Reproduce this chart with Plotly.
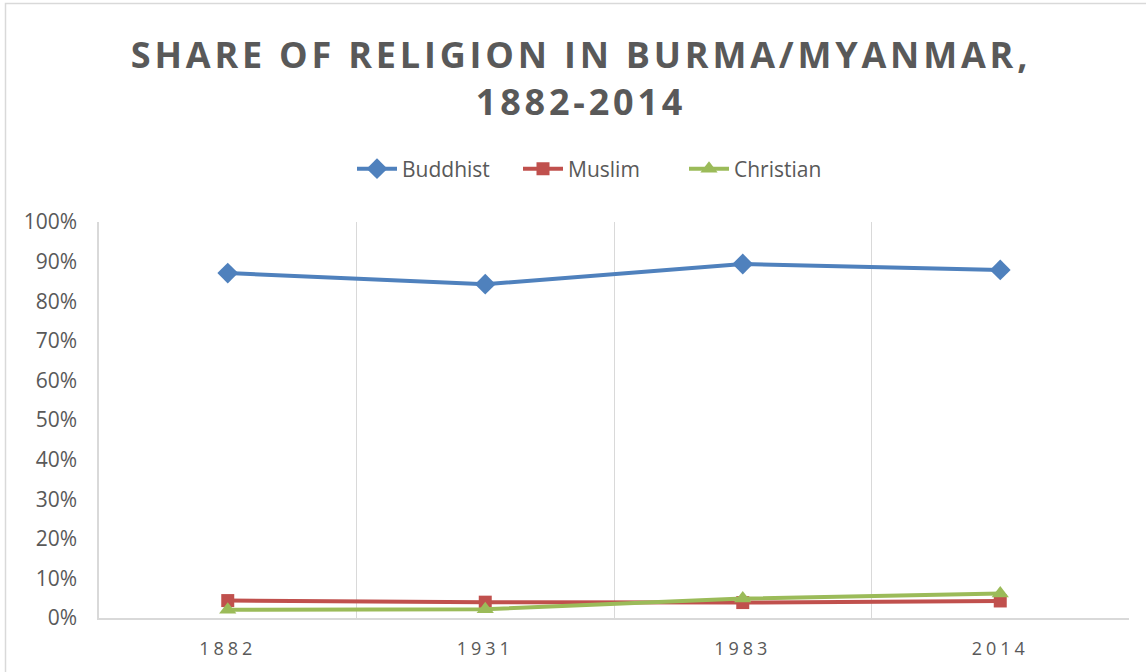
import plotly.graph_objects as go

years = ["1882", "1931", "1983", "2014"]
buddhist = [0.871, 0.843, 0.894, 0.879]
muslim = [0.044, 0.040, 0.039, 0.043]
christian = [0.021, 0.022, 0.049, 0.062]

series = [
    ("Buddhist", buddhist, "#4F81BD", "diamond", 16),
    ("Muslim", muslim, "#C0504D", "square", 13),
    ("Christian", christian, "#9BBB59", "triangle-up", 15),
]

FONT = "Open Sans"
GRAY = "#595959"

fig = go.Figure()
for name, vals, color, sym, size in series:
    fig.add_trace(go.Scatter(
        x=years, y=vals, name=name, mode="lines+markers",
        line=dict(color=color, width=4),
        marker=dict(symbol=sym, size=size, color=color),
    ))

fig.update_layout(
    width=1146, height=672,
    paper_bgcolor="white", plot_bgcolor="white",
    margin=dict(l=99, r=17, t=222, b=54),
    font=dict(family=FONT, color=GRAY, size=18),
    title=dict(
        text='<span style="letter-spacing:3.8px">SHARE OF RELIGION IN BURMA/MYANMAR,<br>1882-2014</span>',
        x=0.507, xanchor="center", xref="container",
        y=1 - 68 / 672, yanchor="middle", yref="container",
        font=dict(family=FONT, size=36, color=GRAY, weight="bold"),
    ),
    legend=dict(
        orientation="h", x=(352 - 99) / 1030, xanchor="left",
        y=(618 - 169) / 396, yanchor="middle",
        font=dict(family=FONT, size=21, color=GRAY),
        itemwidth=40, entrywidth=111,
    ),
    showlegend=True,
)

fig.update_xaxes(
    type="category", tickson="boundaries", showgrid=True,
    gridcolor="#d9d9d9", gridwidth=1.3,
    showline=True, linecolor="#d9d9d9", linewidth=1.5,
    ticks="", tickvals=years,
    ticktext=[f'<span style="letter-spacing:4px">{y}</span>' for y in years],
    tickfont=dict(family=FONT, size=18, color=GRAY),
    ticklabelstandoff=14,
    range=[-0.5, 3.5],
)
fig.update_yaxes(
    range=[0, 1], dtick=0.1, tickformat=".0%", showgrid=False,
    showline=True, linecolor="#d9d9d9", linewidth=1.5,
    zeroline=False, ticks="",
    tickfont=dict(family=FONT, size=21, color=GRAY),
    ticklabelstandoff=16,
)

fig.add_shape(
    type="rect", xref="paper", yref="paper",
    x0=(5.5 - 99) / 1030, x1=1.3, y0=-0.5, y1=(618 - 3.5) / 396,
    line=dict(color="#d9d9d9", width=1.5), fillcolor="rgba(0,0,0,0)",
    layer="below",
)

fig.write_html("out.html", config={"displayModeBar": False},
               post_script="document.body.style.margin='0';")
